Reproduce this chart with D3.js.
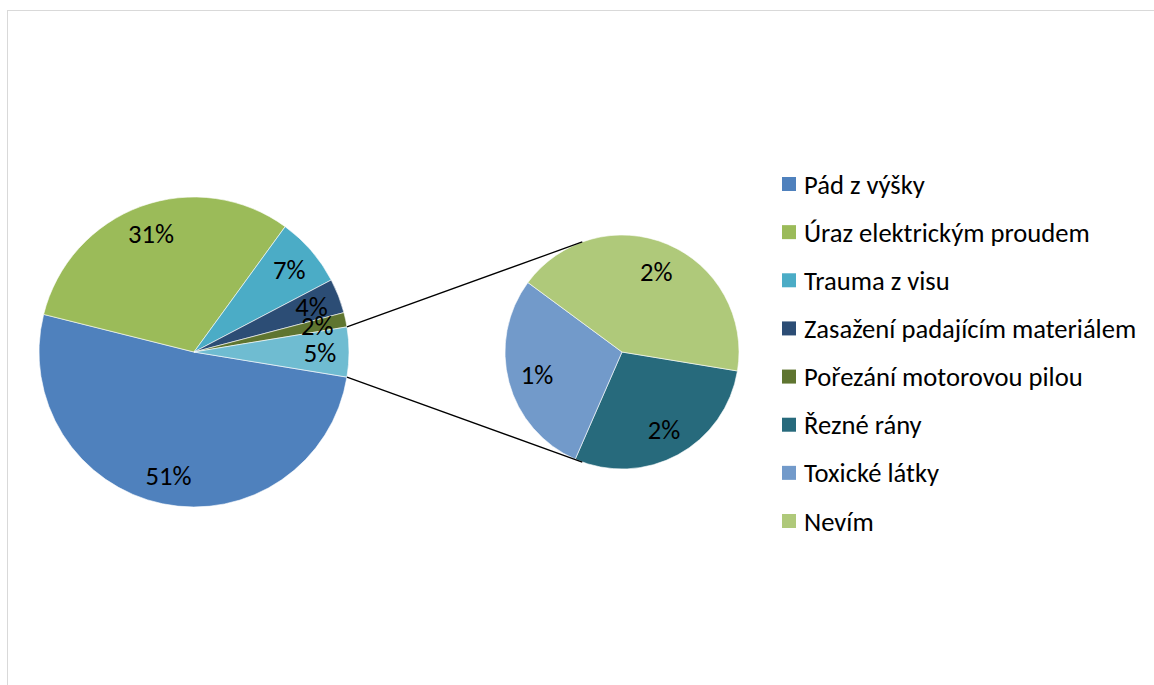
<!DOCTYPE html>
<html>
<head>
<meta charset="utf-8">
<script src="https://cdn.jsdelivr.net/npm/d3@7"></script>
<style>
  html, body { margin: 0; padding: 0; background: #fff; }
  svg text { font-family: Carlito, Calibri, Lato, sans-serif; fill: #000; }
</style>
</head>
<body>
<div id="chart"></div>
<script>
// main pie categories (shown as their own slices)
const mainNames = ['Pád z výšky', 'Úraz elektrickým proudem', 'Trauma z visu', 'Zasažení padajícím materiálem', 'Pořezání motorovou pilou'];
const mainValues = [51.3, 31.1, 7.3, 3.6, 1.5];
const mainColors = ['#4F81BD', '#9BBB59', '#4BACC6', '#2C4D75', '#5F7530'];

// categories split off into the second pie
const otherNames = ['Řezné rány', 'Toxické látky', 'Nevím'];
const otherValues = [1.5, 1.48, 2.2];
const otherColors = ['#276A7C', '#729ACA', '#AFC97A'];
const otherSliceColor = '#6FBCD1';

const width = 1154, height = 685;
const fontSize = 26.6;

const total = d3.sum(mainValues) + d3.sum(otherValues);
const pct = v => Math.round(v / total * 100) + '%';

const svg = d3.select('#chart')
  .append('svg')
  .attr('width', width)
  .attr('height', height);

// chart area border (runs off the bottom/right of the picture)
svg.append('rect')
  .attr('x', 7.5).attr('y', 10.5)
  .attr('width', 1170).attr('height', 700)
  .attr('fill', 'none')
  .attr('stroke', '#D9D9D9');

const main = { cx: 194, cy: 352, r: 155 };
const second = { cx: 622, cy: 352, r: 117 };
const labelInset = 29;

// main pie: the "other" slice is centred at 3 o'clock
const otherSum = d3.sum(otherValues);
const otherSpan = otherSum / total * 2 * Math.PI;
const start = Math.PI / 2 + otherSpan / 2;

const mainData = mainNames.map((n, i) => ({ name: n, value: mainValues[i], color: mainColors[i] }))
  .concat([{ name: 'other', value: otherSum, color: otherSliceColor }]);
const secondData = otherNames.map((n, i) => ({ name: n, value: otherValues[i], color: otherColors[i] }));

const pie = d3.pie().value(d => d.value).sort(null)
  .startAngle(start).endAngle(start + 2 * Math.PI);

function drawPie(data, c) {
  const arcs = pie(data);
  const arc = d3.arc().innerRadius(0).outerRadius(c.r);
  const labelArc = d3.arc().innerRadius(c.r - labelInset).outerRadius(c.r - labelInset);
  const g = svg.append('g').attr('transform', `translate(${c.cx},${c.cy})`);
  g.selectAll('path')
    .data(arcs)
    .join('path')
    .attr('d', arc)
    .attr('fill', d => d.data.color)
    .attr('stroke', '#fff')
    .attr('stroke-width', 0.6);
  g.selectAll('text')
    .data(arcs)
    .join('text')
    .attr('transform', d => `translate(${labelArc.centroid(d)})`)
    .attr('text-anchor', 'middle')
    .attr('dy', '0.36em')
    .style('font-size', fontSize + 'px')
    .text(d => pct(d.data.value));
  return arcs;
}

const mainArcs = drawPie(mainData, main);
drawPie(secondData, second);

// connector lines: from the edges of the "other" slice, tangent to the second pie
const otherArc = mainArcs[mainArcs.length - 1];
function edgePoint(a) {
  return [main.cx + main.r * Math.sin(a), main.cy - main.r * Math.cos(a)];
}
function tangent(p, upper) {
  const dx = p[0] - second.cx, dy = p[1] - second.cy;
  const d = Math.hypot(dx, dy);
  const phi = Math.atan2(dy, dx);
  const alpha = Math.acos(second.r / d);
  const t = upper ? phi + alpha : phi - alpha;
  return [second.cx + second.r * Math.cos(t), second.cy + second.r * Math.sin(t)];
}
const pTop = edgePoint(otherArc.startAngle);
const pBottom = edgePoint(otherArc.endAngle);
const lines = [[pTop, tangent(pTop, true)], [pBottom, tangent(pBottom, false)]];
svg.selectAll('line.connector')
  .data(lines)
  .join('line')
  .attr('class', 'connector')
  .attr('x1', d => d[0][0]).attr('y1', d => d[0][1])
  .attr('x2', d => d[1][0]).attr('y2', d => d[1][1])
  .attr('stroke', '#000')
  .attr('stroke-width', 1.3);

// legend
const legendNames = mainNames.concat(otherNames);
const legendColors = mainColors.concat(otherColors);
const legendY = d3.scalePoint().domain(legendNames).range([184, 521]);
const legend = svg.append('g');
const items = legend.selectAll('g')
  .data(legendNames)
  .join('g')
  .attr('transform', d => `translate(782,${legendY(d)})`);
items.append('rect')
  .attr('x', 0).attr('y', -7)
  .attr('width', 14).attr('height', 14)
  .attr('fill', (d, i) => legendColors[i]);
items.append('text')
  .attr('x', 22)
  .attr('dy', '0.36em')
  .style('font-size', fontSize + 'px')
  .text(d => d);
</script>
</body>
</html>
